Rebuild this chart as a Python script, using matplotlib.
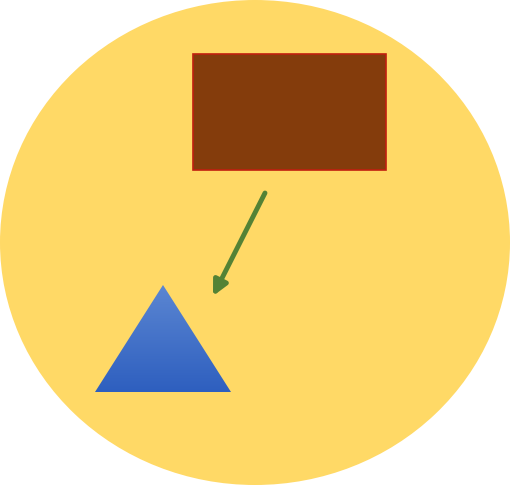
import matplotlib
matplotlib.use('Agg')
import matplotlib.pyplot as plt
import numpy as np
from matplotlib.colors import LinearSegmentedColormap
from matplotlib.patches import Ellipse, Polygon, Rectangle, FancyArrowPatch

# Shapes, in pixel units of the 511x488 canvas (y grows downwards)
ellipse_center = (255, 242.5)
ellipse_size = (510, 485)
rect_origin = (193, 54)
rect_size = (193, 116)
triangle_points = [(163, 285), (95, 392), (231, 392)]
arrow_start = (265, 193)
arrow_end = (213, 296)

W, H = 511, 488
fig = plt.figure(figsize=(W / 100, H / 100), dpi=100)
ax = fig.add_axes([0, 0, 1, 1])
ax.set_xlim(0, W)
ax.set_ylim(H, 0)
ax.axis('off')

ax.add_patch(Ellipse(ellipse_center, *ellipse_size, facecolor='#ffd966',
                     edgecolor='none', zorder=1))

ax.add_patch(Rectangle(rect_origin, *rect_size, facecolor='#843c0c',
                       edgecolor='#c0200f', linewidth=1.2, zorder=2))

# triangle with a soft vertical gradient
tri = Polygon(triangle_points, closed=True, facecolor='none',
              edgecolor='none', zorder=3)
ax.add_patch(tri)
xs = [p[0] for p in triangle_points]
ys = [p[1] for p in triangle_points]
cmap = LinearSegmentedColormap.from_list('tri', ['#5b86d2', '#2e5fbf'])
grad = np.linspace(0, 1, 256).reshape(-1, 1)
img = ax.imshow(grad, cmap=cmap, aspect='auto', zorder=3,
                extent=(min(xs), max(xs), max(ys), min(ys)))
img.set_clip_path(tri)

ax.add_patch(FancyArrowPatch(arrow_start, arrow_end, arrowstyle='-|>',
                             mutation_scale=22, linewidth=3.5,
                             color='#548235', shrinkA=0, shrinkB=0, zorder=4))

fig.savefig('out.png', dpi=100, facecolor='white')
